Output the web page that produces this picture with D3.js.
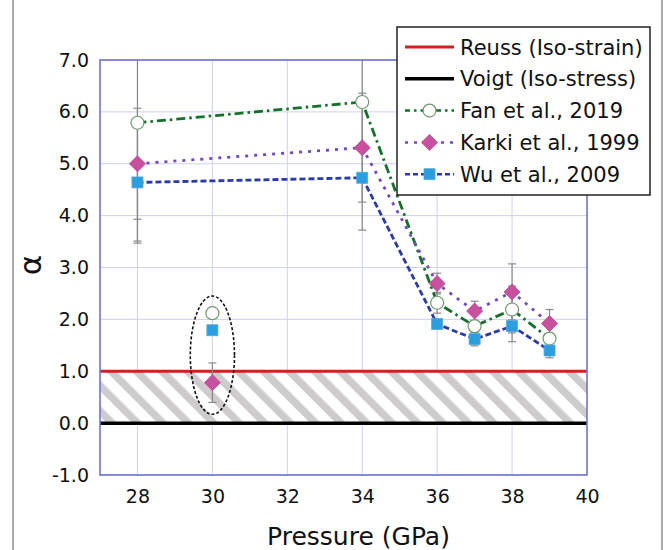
<!DOCTYPE html>
<html>
<head>
<meta charset="utf-8">
<script src="https://cdn.jsdelivr.net/npm/d3@7"></script>
<style>
  body { margin: 0; background: #fff; }
  text { font-family: "DejaVu Sans", sans-serif; }
</style>
</head>
<body>
<div id="chart-area"></div>
<script>
// values
var pressures = [28, 30, 34, 36, 37, 38, 39]
var fanAlpha   = [5.79, 2.12, 6.19, 2.32, 1.87, 2.19, 1.63]
var fanErr     = [2.32, 0, 2.47, 0.2, 0, 0.45, 0]
var karkiAlpha = [5.0, 0.78, 5.31, 2.69, 2.16, 2.53, 1.92]
var karkiErr   = [1.07, 0.38, 1.05, 0.2, 0.19, 0.54, 0.27]
var wuAlpha    = [4.64, 1.79, 4.73, 1.91, 1.62, 1.87, 1.40]
var wuErr      = [1.13, 0, 0, 0, 0.13, 0.3, 0.14]
var isolatedPressure = 30   // circled points, not joined by the lines

var xTicks = [28, 30, 32, 34, 36, 38, 40]
var yTicks = [-1, 0, 1, 2, 3, 4, 5, 6, 7]
var reussAlpha = 1.0
var voigtAlpha = 0.0
var legendLabels = ["Reuss (Iso-strain)", "Voigt (Iso-stress)", "Fan et al., 2019", "Karki et al., 1999", "Wu et al., 2009"]

var W = 663, H = 550
var margin = { left: 100, right: 76, top: 60, bottom: 75 }
var width = W - margin.left - margin.right,
    height = H - margin.top - margin.bottom

var svg = d3.select("#chart-area").append("svg")
    .attr("width", W)
    .attr("height", H)

// page frame
svg.append("rect")
  .attr("x", 13).attr("y", -10)
  .attr("width", 649).attr("height", H + 20)
  .attr("fill", "none")
  .attr("stroke", "#aaa")
  .attr("stroke-width", 2)

var defs = svg.append("defs")
var pat = defs.append("pattern")
  .attr("id", "hatch")
  .attr("patternUnits", "userSpaceOnUse")
  .attr("width", 18).attr("height", 18)
  .attr("patternTransform", "rotate(-45)")
pat.append("rect")
  .attr("width", 18).attr("height", 18).attr("fill", "#fff")
pat.append("rect")
  .attr("x", 0).attr("width", 7.5).attr("height", 18).attr("fill", "#cdcbcc")

var g = svg.append("g")
  .attr("transform", "translate(" + margin.left + "," + margin.top + ")")

var x = d3.scaleLinear().domain([27, 40]).range([0, width])
var y = d3.scaleLinear().domain([-1, 7]).range([height, 0])

// grid
g.append("g").selectAll("line.vg")
  .data(xTicks.filter(function(d) { return d < 40 }))
  .enter().append("line")
    .attr("x1", function(d) { return x(d) }).attr("x2", function(d) { return x(d) })
    .attr("y1", 0).attr("y2", height)
    .attr("stroke", "#cfd0f2").attr("stroke-width", 1)
g.append("g").selectAll("line.hg")
  .data(yTicks)
  .enter().append("line")
    .attr("x1", 0).attr("x2", width)
    .attr("y1", function(d) { return y(d) }).attr("y2", function(d) { return y(d) })
    .attr("stroke", "#cfd0f2").attr("stroke-width", 1)

// hatched zone between the bounds
g.append("rect")
  .attr("x", 0).attr("y", y(reussAlpha))
  .attr("width", width).attr("height", y(voigtAlpha) - y(reussAlpha))
  .attr("fill", "url(#hatch)")

g.append("line")
  .attr("x1", 0).attr("x2", width)
  .attr("y1", y(reussAlpha)).attr("y2", y(reussAlpha))
  .attr("stroke", "#cc2222").attr("stroke-width", 3)
g.append("line")
  .attr("x1", 0).attr("x2", width)
  .attr("y1", y(voigtAlpha)).attr("y2", y(voigtAlpha))
  .attr("stroke", "#000").attr("stroke-width", 3.5)

// axes
var xAxisCall = d3.axisBottom(x).tickValues(xTicks).tickSize(0).tickPadding(15)
var xAxisGroup = g.append("g")
  .attr("transform", "translate(0," + height + ")")
  .call(xAxisCall)
xAxisGroup.select(".domain").remove()
xAxisGroup.selectAll("text").attr("font-size", "19px").attr("fill", "#111")
  .attr("font-family", "DejaVu Sans")

var yAxisCall = d3.axisLeft(y).tickValues(yTicks).tickSize(0).tickPadding(11)
  .tickFormat(function(d) { return d.toFixed(1) })
var yAxisGroup = g.append("g").call(yAxisCall)
yAxisGroup.select(".domain").remove()
yAxisGroup.selectAll("text").attr("font-size", "19px").attr("fill", "#111")
  .attr("font-family", "DejaVu Sans")

g.append("text")
  .attr("x", width / 2 + 15)
  .attr("y", height + 70)
  .attr("font-size", "25px")
  .attr("text-anchor", "middle")
  .attr("fill", "#111")
  .text("Pressure (GPa)")

g.append("text")
  .attr("transform", "translate(" + (-70) + "," + (y(3.05)) + ") rotate(-90)")
  .attr("font-size", "31px")
  .attr("text-anchor", "middle")
  .attr("dy", "0.35em")
  .attr("fill", "#111")
  .text("α")

var series = [
  { name: legendLabels[2], vals: fanAlpha, err: fanErr, color: "#14702a", dash: "9,4,2.5,4", marker: "circle" },
  { name: legendLabels[3], vals: karkiAlpha, err: karkiErr, color: "#7147c4", dash: "3,6", marker: "diamond" },
  { name: legendLabels[4], vals: wuAlpha, err: wuErr, color: "#2c3aa8", dash: "6,3", marker: "square" }
]

// error bars
series.forEach(function(s) {
  var eb = pressures.map(function(p, i) { return { p: p, v: s.vals[i], e: s.err[i] } })
    .filter(function(d) { return d.e > 0 })
  var eg = g.append("g")
  eg.selectAll("line.bar").data(eb).enter().append("line")
    .attr("x1", function(d) { return x(d.p) }).attr("x2", function(d) { return x(d.p) })
    .attr("y1", function(d) { return Math.max(0, y(d.v + d.e)) })
    .attr("y2", function(d) { return y(d.v - d.e) })
    .attr("stroke", "#8a8a8a").attr("stroke-width", 1.2)
  eg.selectAll("line.capHi").data(eb.filter(function(d) { return y(d.v + d.e) > 0 })).enter().append("line")
    .attr("x1", function(d) { return x(d.p) - 4 }).attr("x2", function(d) { return x(d.p) + 4 })
    .attr("y1", function(d) { return y(d.v + d.e) }).attr("y2", function(d) { return y(d.v + d.e) })
    .attr("stroke", "#8a8a8a").attr("stroke-width", 1.2)
  eg.selectAll("line.capLo").data(eb).enter().append("line")
    .attr("x1", function(d) { return x(d.p) - 4 }).attr("x2", function(d) { return x(d.p) + 4 })
    .attr("y1", function(d) { return y(d.v - d.e) }).attr("y2", function(d) { return y(d.v - d.e) })
    .attr("stroke", "#8a8a8a").attr("stroke-width", 1.2)
})

var line = d3.line()
  .x(function(d) { return x(d.p) })
  .y(function(d) { return y(d.v) })

series.forEach(function(s) {
  var pts = pressures.map(function(p, i) { return { p: p, v: s.vals[i] } })
    .filter(function(d) { return d.p !== isolatedPressure })
  g.append("path")
    .datum(pts)
    .attr("d", line)
    .attr("fill", "none")
    .attr("stroke", s.color)
    .attr("stroke-width", 2.8)
    .attr("stroke-dasharray", s.dash)
})

function drawMarker(sel, type) {
  if (type === "circle") {
    sel.append("circle").attr("r", 6.5)
      .attr("fill", "#fff").attr("stroke", "#6f9a6f").attr("stroke-width", 1.2)
  } else if (type === "diamond") {
    sel.append("path").attr("d", "M0,-8L8,0L0,8L-8,0Z")
      .attr("fill", "#c9509f").attr("stroke", "#b5468f").attr("stroke-width", 0.8)
  } else {
    sel.append("rect").attr("x", -5.5).attr("y", -5.5).attr("width", 11).attr("height", 11)
      .attr("fill", "#2a9fe0").attr("stroke", "#5aa7d8").attr("stroke-width", 0.8)
  }
}

series.forEach(function(s) {
  pressures.forEach(function(p, i) {
    var m = g.append("g").attr("transform", "translate(" + x(p) + "," + y(s.vals[i]) + ")")
    drawMarker(m, s.marker)
  })
})

// dashed ellipse round the isolated points
g.append("ellipse")
  .attr("cx", x(isolatedPressure))
  .attr("cy", y(1.31))
  .attr("rx", x(isolatedPressure + 0.59) - x(isolatedPressure))
  .attr("ry", y(0) - y(1.14))
  .attr("fill", "none")
  .attr("stroke", "#111")
  .attr("stroke-width", 1.6)
  .attr("stroke-dasharray", "3,2")

// plot frame
g.append("rect")
  .attr("width", width).attr("height", height)
  .attr("fill", "none")
  .attr("stroke", "#7173d2")
  .attr("stroke-width", 1.6)

// legend
var lg = svg.append("g").attr("transform", "translate(397,27)")
lg.append("rect")
  .attr("width", 253).attr("height", 168)
  .attr("fill", "#fff")
  .attr("stroke", "#222")
  .attr("stroke-width", 1.5)

var legendItems = [
  { color: "#cc2222", dash: null, w: 3, marker: null },
  { color: "#000", dash: null, w: 3.5, marker: null },
  { color: series[0].color, dash: "5,4,2.5,4", w: 2.5, marker: "circle" },
  { color: series[1].color, dash: "3,6", w: 2.5, marker: "diamond" },
  { color: series[2].color, dash: "5,3", w: 2.5, marker: "square" }
]

legendItems.forEach(function(it, i) {
  var row = lg.append("g").attr("transform", "translate(0," + (20 + i * 31.8) + ")")
  row.append("line")
    .attr("x1", 8).attr("x2", 57)
    .attr("stroke", it.color)
    .attr("stroke-width", it.w)
    .attr("stroke-dasharray", it.dash)
  if (it.marker) {
    var m = row.append("g").attr("transform", "translate(32.5,0)")
    drawMarker(m, it.marker)
  }
  row.append("text")
    .attr("x", 63)
    .attr("dy", "0.36em")
    .attr("font-size", "21px")
    .attr("fill", "#111")
    .text(legendLabels[i])
})
</script>
</body>
</html>
